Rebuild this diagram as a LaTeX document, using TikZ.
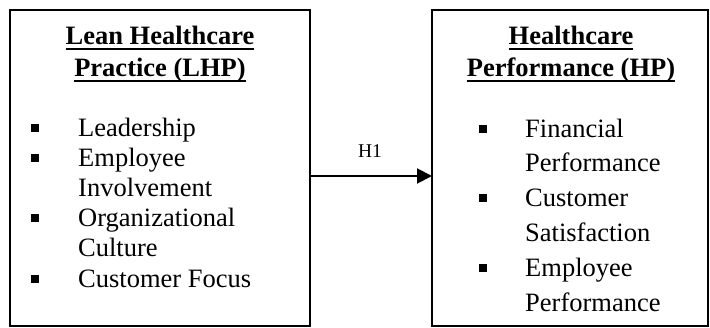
\documentclass[tikz,border=0pt]{standalone}
\usepackage{fontspec}
\setmainfont{Liberation Serif}
\usetikzlibrary{arrows.meta}
\newcommand\myul[1]{\setbox0\hbox{#1}\rlap{\rule[-5pt]{\wd0}{2pt}}\box0}
\begin{document}
\begin{tikzpicture}[x=1pt,y=-1pt,
  box/.style={draw=black, line width=2pt, fill=none, inner sep=0pt, outer sep=0pt, anchor=north west},
  title/.style={font=\fontsize{26.5}{30}\selectfont\bfseries, anchor=base, inner sep=0pt},
  item/.style={font=\fontsize{26.5}{30}\selectfont, anchor=base west, inner sep=0pt},
  bul/.style={fill=black, draw=none, minimum size=7.5pt, inner sep=0pt},
  lab/.style={font=\fontsize{19.5}{22}\selectfont, anchor=base, inner sep=0pt},
  arr/.style={line width=2pt, -{Triangle[length=15pt,width=15pt]}}]
\useasboundingbox (0,0) rectangle (710,328);
\node[box, minimum width=300pt, minimum height=316pt] (lhp) at (10,10) {};
\node[box, minimum width=276pt, minimum height=316pt] (hp) at (432,10) {};
% left box texts
\node[title] (lt1) at (160,45) {\myul{Lean Healthcare}};
\node[title] (lt2) at (160,77) {\myul{Practice (LHP)}};
\node[bul] (lb1) at (35,128) {};
\node[item] (li1) at (78,137) {Leadership};
\node[bul] (lb2) at (35,158) {};
\node[item] (li2) at (78,167) {Employee};
\node[item] (li3) at (78,197) {Involvement};
\node[bul] (lb3) at (35,218) {};
\node[item] (li4) at (78,227) {Organizational};
\node[item] (li5) at (78,257) {Culture};
\node[bul] (lb4) at (35,279) {};
\node[item] (li6) at (78,288) {Customer Focus};
% right box texts
\node[title] (rt1) at (571,45) {\myul{Healthcare}};
\node[title] (rt2) at (571,77) {\myul{Performance (HP)}};
\node[bul] (rb1) at (483,129) {};
\node[item] (ri1) at (525,138) {Financial};
\node[item] (ri2) at (525,172) {Performance};
\node[bul] (rb2) at (483,198) {};
\node[item] (ri3) at (525,207) {Customer};
\node[item] (ri4) at (525,242) {Satisfaction};
\node[bul] (rb3) at (483,268) {};
\node[item] (ri5) at (525,277) {Employee};
\node[item] (ri6) at (525,312) {Performance};
% arrow
\coordinate (ay) at (0,176);
\draw[arr] (lhp.east |- ay) -- (hp.west |- ay);
\node[lab] (h1) at (370,158) {H1};
\end{tikzpicture}
\end{document}
